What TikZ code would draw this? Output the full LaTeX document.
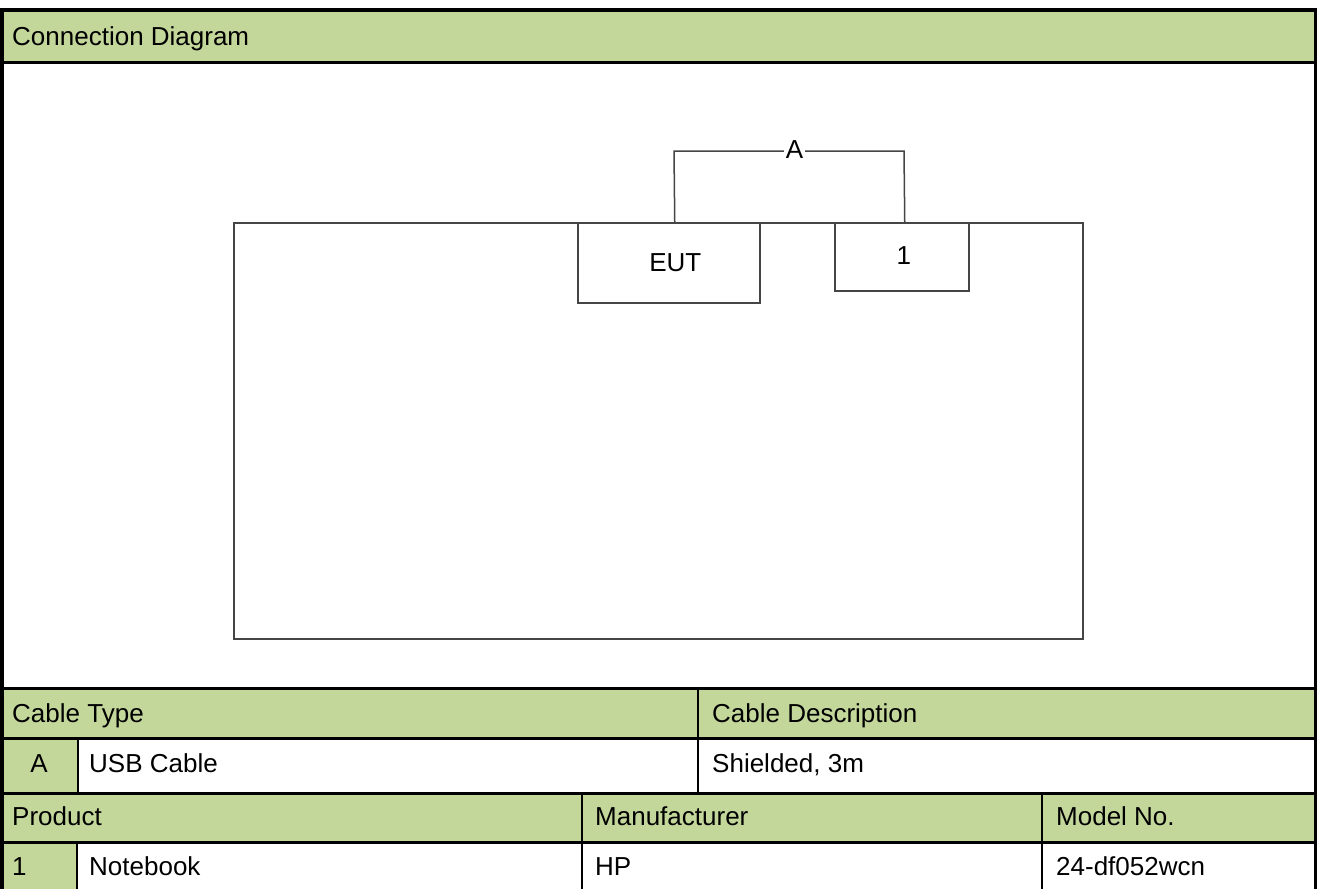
\documentclass[tikz,border=0pt]{standalone}
\usepackage{fontspec}
\setmainfont{Liberation Sans}
\definecolor{hdr}{HTML}{C4D79B}
\definecolor{wire}{HTML}{454545}
\begin{document}
\begin{tikzpicture}[x=1pt,y=-1pt,
  txt/.style={font=\fontsize{26}{30}\selectfont},
  cell/.style={txt,anchor=base west,inner sep=0pt},
  hgrid/.style={line width=3pt,black},
  vgrid/.style={line width=2pt,black},
  outer/.style={line width=4pt,black},
  box/.style={txt,draw=wire,line width=1.5pt,fill=white,inner sep=0pt},
  wireline/.style={draw=wire,line width=1.5pt}]
\useasboundingbox (0,0) rectangle (1317,889);
\fill[white] (0,0) rectangle (1317,889);
% green fills
\fill[hdr] (0,10) rectangle (1317,62);
\fill[hdr] (0,688) rectangle (1317,738);
\fill[hdr] (0,738) rectangle (78,793);
\fill[hdr] (0,793) rectangle (1317,842);
\fill[hdr] (0,842) rectangle (77,889);
% grid lines
\draw[outer] (0,10) -- (1317,10);
\draw[hgrid] (0,62) -- (1317,62);
\draw[hgrid] (0,688) -- (1317,688);
\draw[hgrid] (0,738) -- (1317,738);
\draw[hgrid] (0,793) -- (1317,793);
\draw[hgrid] (0,842) -- (1317,842);
\draw[vgrid] (78,738) -- (78,793);
\draw[vgrid] (698,688) -- (698,793);
\draw[vgrid] (77,842) -- (77,889);
\draw[vgrid] (582,793) -- (582,889);
\draw[vgrid] (1042,793) -- (1042,889);
\draw[outer] (2,8) -- (2,889);
\draw[line width=3pt] (1315.5,8) -- (1315.5,889);
% diagram
\node[box,anchor=north west,minimum width=849pt,minimum height=416pt] (bench) at (233,222) {};
\node[box,anchor=north west,minimum width=182pt,minimum height=80pt] (eut) at (577,222) {\hspace*{13pt}EUT};
\node[box,anchor=north west,minimum width=134pt,minimum height=68pt] (dev1) at (834,222) {\raisebox{2pt}{\hspace*{4pt}1}};
\coordinate (cA1) at (674,151);
\coordinate (cA2) at (904,151);
\draw[wireline] ([xshift=6pt]eut.north) -- (cA1) -- (cA2) -- ([xshift=3pt]dev1.north);
\node[txt,fill=white,inner sep=1.5pt,anchor=base] (lblA) at (794.5,158) {A};
% texts
\node[cell] (title) at (12,45) {Connection Diagram};
\node[cell] (ctype) at (12,722) {Cable Type};
\node[cell] (cdesc) at (712,722) {Cable Description};
\node[cell,anchor=base] (ida) at (39,772) {A};
\node[cell] (usb) at (89,772) {USB Cable};
\node[cell] (shield) at (712,772) {Shielded, 3m};
\node[cell] (prod) at (12,825) {Product};
\node[cell] (manu) at (595,825) {Manufacturer};
\node[cell] (model) at (1056,825) {Model No.};
\node[cell] (id1) at (12,875) {1};
\node[cell] (nb) at (89,875) {Notebook};
\node[cell] (hp) at (595,875) {HP};
\node[cell] (mno) at (1056,875) {24-df052wcn};
\end{tikzpicture}
\end{document}
